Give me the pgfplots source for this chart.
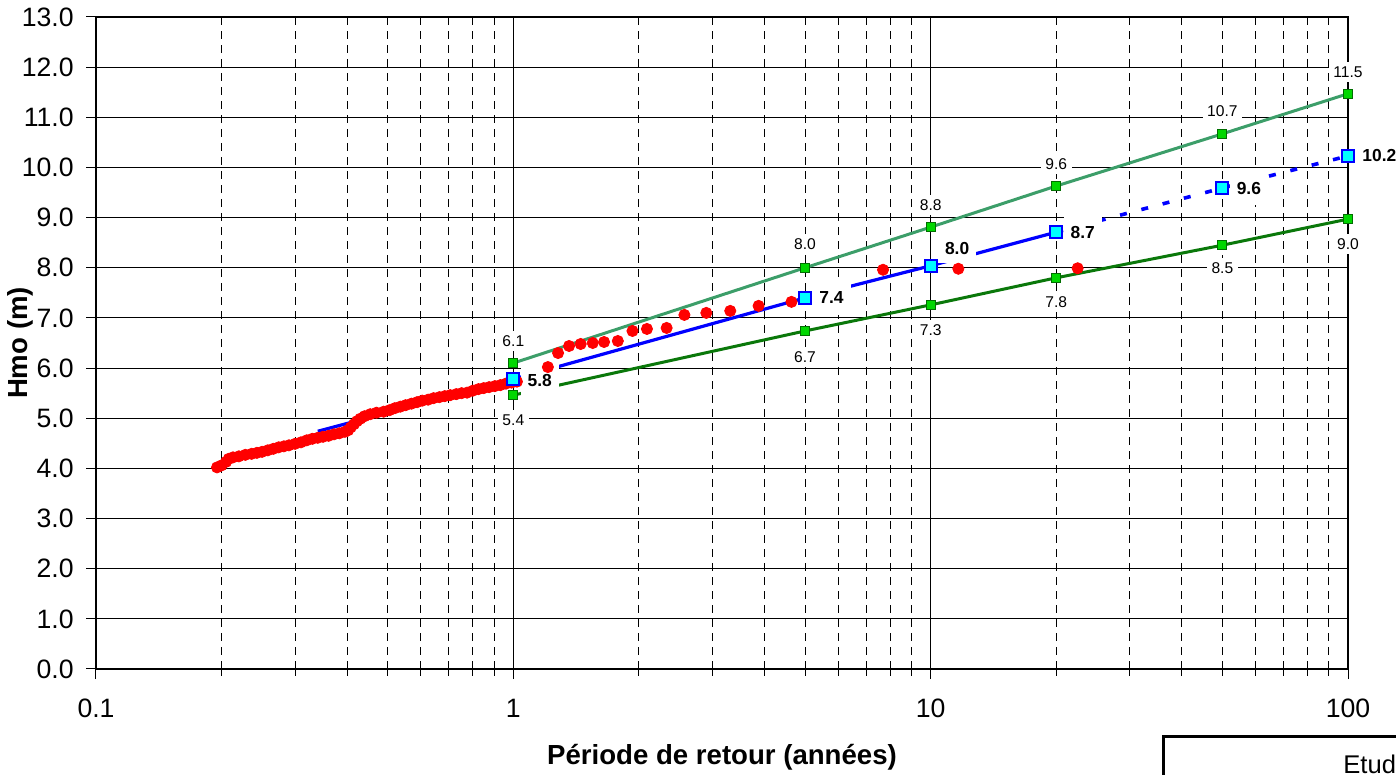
\documentclass[border=0pt]{standalone}
\usepackage{pgfplots}
\pgfplotsset{compat=1.18}
\usepackage{fontspec}
\setmainfont{Liberation Sans}
\definecolor{redpt}{RGB}{255,0,0}
\definecolor{bluel}{RGB}{0,0,255}
\definecolor{cyanm}{RGB}{0,255,255}
\definecolor{lgreen}{RGB}{60,158,105}
\definecolor{dgreen}{RGB}{10,120,10}
\definecolor{mgreen}{RGB}{0,215,0}
\definecolor{mgreenedge}{RGB}{0,110,0}
\tikzset{
  lab/.style={fill=white, inner sep=2.3pt, font=\fontsize{7.8}{9}\selectfont},
  blab/.style={fill=white, inner xsep=3.5pt, inner ysep=5.5pt, font=\bfseries\fontsize{8.7}{10}\selectfont, anchor=west, xshift=3.5pt},
}

\pgfplotstableread{
x y
0.195 4.02
0.200 4.06
0.205 4.13
0.208 4.19
0.213 4.22
0.220 4.24
0.228 4.27
0.236 4.29
0.243 4.31
0.250 4.33
0.258 4.36
0.266 4.39
0.274 4.42
0.282 4.44
0.290 4.46
0.300 4.49
0.310 4.52
0.320 4.56
0.330 4.59
0.340 4.61
0.350 4.63
0.361 4.65
0.372 4.68
0.383 4.70
0.395 4.73
0.402 4.76
0.408 4.82
0.415 4.88
0.422 4.94
0.430 4.99
0.440 5.04
0.454 5.08
0.470 5.11
0.489 5.13
0.505 5.16
0.520 5.20
0.536 5.23
0.552 5.26
0.570 5.29
0.588 5.32
0.605 5.35
0.625 5.37
0.644 5.40
0.665 5.42
0.685 5.44
0.706 5.46
0.730 5.48
0.752 5.50
0.775 5.51
0.800 5.55
0.825 5.58
0.849 5.60
0.875 5.62
0.903 5.64
0.931 5.66
0.960 5.69
0.990 5.71
1.020 5.73
1.21 6.02
1.28 6.30
1.36 6.44
1.45 6.48
1.55 6.50
1.65 6.52
1.78 6.54
1.93 6.74
2.09 6.78
2.33 6.80
2.57 7.06
2.90 7.10
3.31 7.14
3.87 7.24
4.64 7.32
7.69 7.96
11.65 7.98
22.5 7.99
}\tabobs

\pgfplotstableread{
x y
1 5.78
5 7.40
10 8.04
20 8.71
50 9.59
100 10.23
}\tabblue

\pgfplotstableread{
x y
1 6.10
5 8.00
10 8.81
20 9.63
50 10.67
100 11.47
}\tabup

\pgfplotstableread{
x y
1 5.46
5 6.74
10 7.26
20 7.80
50 8.45
100 8.97
}\tablow

\begin{document}
\begin{tikzpicture}
\useasboundingbox (-48pt,-53pt) rectangle (650pt,334.5pt);
\clip (-48pt,-53pt) rectangle (650pt,334.5pt);
\begin{axis}[
  at={(0pt,0pt)}, anchor=south west,
  scale only axis, width=626pt, height=326pt,
  xmode=log, xmin=0.1, xmax=100, ymin=0, ymax=13,
  xtick={0.1,1,10,100}, xticklabels={0.1,1,10,100},
  ytick={0,1,...,13},
  /pgf/number format/assume math mode=true,
  tick pos=left, tick align=center, major tick length=10pt, minor tick length=7pt,
  xmajorgrids, ymajorgrids, xminorgrids,
  major grid style={black, line width=0.5pt},
  minor grid style={black, line width=0.5pt, dash pattern=on 4pt off 3pt},
  axis line style={line width=0.9pt},
  tick style={black, line width=0.5pt},
  yticklabel style={/pgf/number format/fixed, /pgf/number format/fixed zerofill, /pgf/number format/precision=1, inner sep=0pt, anchor=east, xshift=-6pt, font=\fontsize{13.3}{16}\selectfont},
  xticklabel style={inner sep=0pt, anchor=north, yshift=-10pt, font=\fontsize{13.3}{16}\selectfont},
  clip=false,
  xlabel={Période de retour (années)},
  ylabel={Hmo (m)},
  every axis y label/.style={at={(axis description cs:-0.0607,0.5)}, rotate=90, anchor=center, font=\bfseries\fontsize{13.8}{16}\selectfont},
  every axis x label/.style={at={(axis description cs:0.5,-0.135)}, anchor=center, font=\bfseries\fontsize{13.8}{16}\selectfont},
]
% fitted lines
\addplot[bluel, line width=1.6pt, no markers] coordinates {(0.34,4.74) (1,5.78) (5,7.40) (10,8.04) (20,8.71)};
\addplot[bluel, line width=1.8pt, dash pattern=on 3.5pt off 7.5pt, no markers] coordinates {(20,8.71) (50,9.59) (100,10.23)};
\addplot[lgreen, line width=1.5pt, no markers] table[x=x,y=y] {\tabup};
\addplot[dgreen, line width=1.5pt, no markers] table[x=x,y=y] {\tablow};
% observations
\addplot[only marks, mark=*, mark size=2.8pt, mark options={draw=redpt, fill=redpt}] table[x=x,y=y] {\tabobs};
% markers
\addplot[only marks, mark=square*, mark size=2.25pt, mark options={fill=mgreen, draw=mgreenedge, line width=0.6pt}] table[x=x,y=y] {\tabup};
\addplot[only marks, mark=square*, mark size=2.25pt, mark options={fill=mgreen, draw=mgreenedge, line width=0.6pt}] table[x=x,y=y] {\tablow};
\addplot[only marks, mark=square*, mark size=3pt, mark options={fill=cyanm, draw=bluel, line width=0.9pt}] table[x=x,y=y] {\tabblue};
% labels upper
\node[lab, yshift=11pt] at (axis cs:1,6.10) {6.1};
\node[lab, yshift=12pt] at (axis cs:5,8.00) {8.0};
\node[lab, yshift=11pt] at (axis cs:10,8.81) {8.8};
\node[lab, yshift=11pt] at (axis cs:20,9.63) {9.6};
\node[lab, yshift=11.5pt] at (axis cs:50,10.67) {10.7};
\node[lab, yshift=11pt] at (axis cs:100,11.47) {11.5};
% labels lower
\node[lab, yshift=-12.5pt] at (axis cs:1,5.46) {5.4};
\node[lab, yshift=-13pt] at (axis cs:5,6.74) {6.7};
\node[lab, yshift=-12.5pt] at (axis cs:10,7.26) {7.3};
\node[lab, yshift=-12pt] at (axis cs:20,7.80) {7.8};
\node[lab, yshift=-11.5pt] at (axis cs:50,8.45) {8.5};
\node[lab, yshift=-12.5pt] at (axis cs:100,8.97) {9.0};
% labels blue
\node[blab, yshift=-0.8pt] at (axis cs:1,5.78) {5.8};
\node[blab] at (axis cs:5,7.40) {7.4};
\node[blab, inner ysep=4pt, yshift=8.5pt] at (axis cs:10,8.04) {8.0};
\node[blab] at (axis cs:20,8.71) {8.7};
\node[blab] at (axis cs:50,9.59) {9.6};
\node[blab] at (axis cs:100,10.23) {10.2};
\end{axis}
\draw[line width=1.5pt] (533.5pt,-33.8pt) rectangle (720pt,-90pt);
\node[anchor=north west, inner sep=0pt, font=\fontsize{12.8}{15}\selectfont] at (623.5pt,-43pt) {Etude};
\end{tikzpicture}
\end{document}
